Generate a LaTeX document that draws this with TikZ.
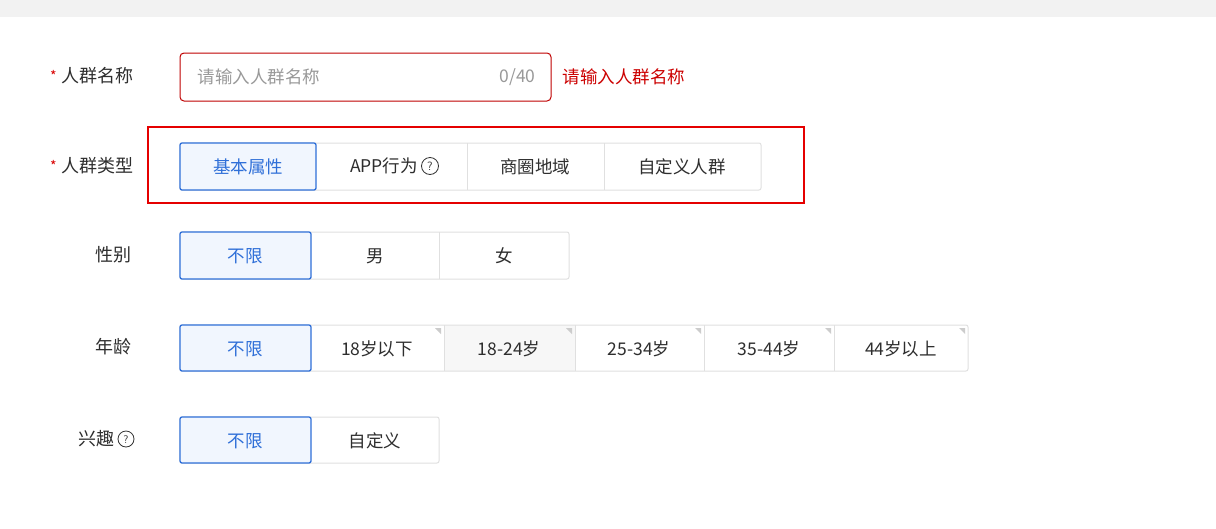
\documentclass[tikz,border=0pt]{standalone}
\usepackage{fontspec}
\setmainfont{Noto Sans CJK SC}
\definecolor{selblue}{HTML}{2F6FD8}
\definecolor{selfill}{HTML}{F1F6FE}
\begin{document}
\begin{tikzpicture}[x=1pt,y=-1pt,
  lbl/.style={anchor=east,font=\fontsize{18}{18}\selectfont,text=black!82},
  btn/.style={draw=black!12,fill=white,line width=1pt,rounded corners=2pt},
  sel/.style={draw=selblue,fill=selfill,line width=1.3pt,rounded corners=2pt},
  bt/.style={font=\fontsize{17.5}{17.5}\selectfont,text=black!82},
  st/.style={font=\fontsize{17.5}{17.5}\selectfont,text=selblue},
  star/.style={text=red!85!black,font=\fontsize{14}{14}\selectfont,anchor=east,inner sep=1pt},
  corner/.style={fill=black!20,draw=none}]
\useasboundingbox (0,0) rectangle (1216,528);
\fill[white] (0,0) rectangle (1216,528);
\fill[black!5] (0,0) rectangle (1216,17);
% row 1
\node[lbl] (l1) at (137,76) {人群名称};
\node[star] (s1) at (l1.west) {*};
\draw[red!75!black,line width=1pt,rounded corners=4pt] (180,53) rectangle (551,101);
\node[anchor=west,bt,text=black!40] (ph) at (194,77) {请输入人群名称};
\node[anchor=east,bt,text=black!40] (cnt) at (539,77) {0/40};
\node[anchor=west,bt,text=red!80!black] (err) at (559,77) {请输入人群名称};
% row 2
\node[lbl] (l2) at (137,166) {人群类型};
\node[star] (s2) at (l2.west) {*};
\draw[btn] (180,143) rectangle (761,190);
\foreach \x in {467,604} \draw[black!12,line width=1pt] (\x,143) -- (\x,190);
\draw[sel] (180,143) rectangle (316,190);
\node[st] (b1) at (248,167) {基本属性};
\node[bt] (b2) at (384,166) {APP行为};
\draw[black!80,line width=0.8pt] (430,166) circle (8.5);
\node[font=\fontsize{12}{12}\selectfont\sffamily,text=black!80] (q1) at (430,166.5) {?};
\node[bt] (b3) at (535,167) {商圈地域};
\node[bt] (b4) at (682,167) {自定义人群};
\draw[red!90!black,line width=2pt] (148,127) rectangle (804,203);
% row 3
\node[lbl] (l3) at (135,255) {性别};
\draw[btn] (180,232) rectangle (569,279);
\draw[black!12,line width=1pt] (439,232) -- (439,279);
\draw[sel] (180,232) rectangle (311,279);
\node[st] (g1) at (245,256) {不限};
\node[bt] (g2) at (375,256) {男};
\node[bt] (g3) at (504,256) {女};
% row 4
\node[lbl] (l4) at (135,347) {年龄};
\fill[black!3] (444,325) rectangle (575,371);
\draw[btn,fill=none] (180,325) rectangle (968,371);
\foreach \x in {444,575,704,834} \draw[black!12,line width=1pt] (\x,325) -- (\x,371);
\foreach \x in {444,575,704,834,968} \fill[corner] (\x-3,328) -- (\x-9,328) -- (\x-3,334) -- cycle;
\draw[sel] (180,325) rectangle (311,371);
\node[st] (a1) at (245,349) {不限};
\node[bt] (a2) at (377,349) {18岁以下};
\node[bt] (a3) at (509,349) {18-24岁};
\node[bt] (a4) at (639,349) {25-34岁};
\node[bt] (a5) at (769,349) {35-44岁};
\node[bt] (a6) at (901,349) {44岁以上};
% row 5
\node[lbl] (l5) at (118,439) {兴趣};
\draw[black!80,line width=0.8pt] (126,439) circle (8);
\node[font=\fontsize{11}{11}\selectfont\sffamily,text=black!80] (q2) at (126,439.5) {?};
\draw[btn] (180,417) rectangle (439,463);
\draw[sel] (180,417) rectangle (311,463);
\node[st] (i1) at (245,441) {不限};
\node[bt] (i2) at (375,441) {自定义};
\end{tikzpicture}
\end{document}
